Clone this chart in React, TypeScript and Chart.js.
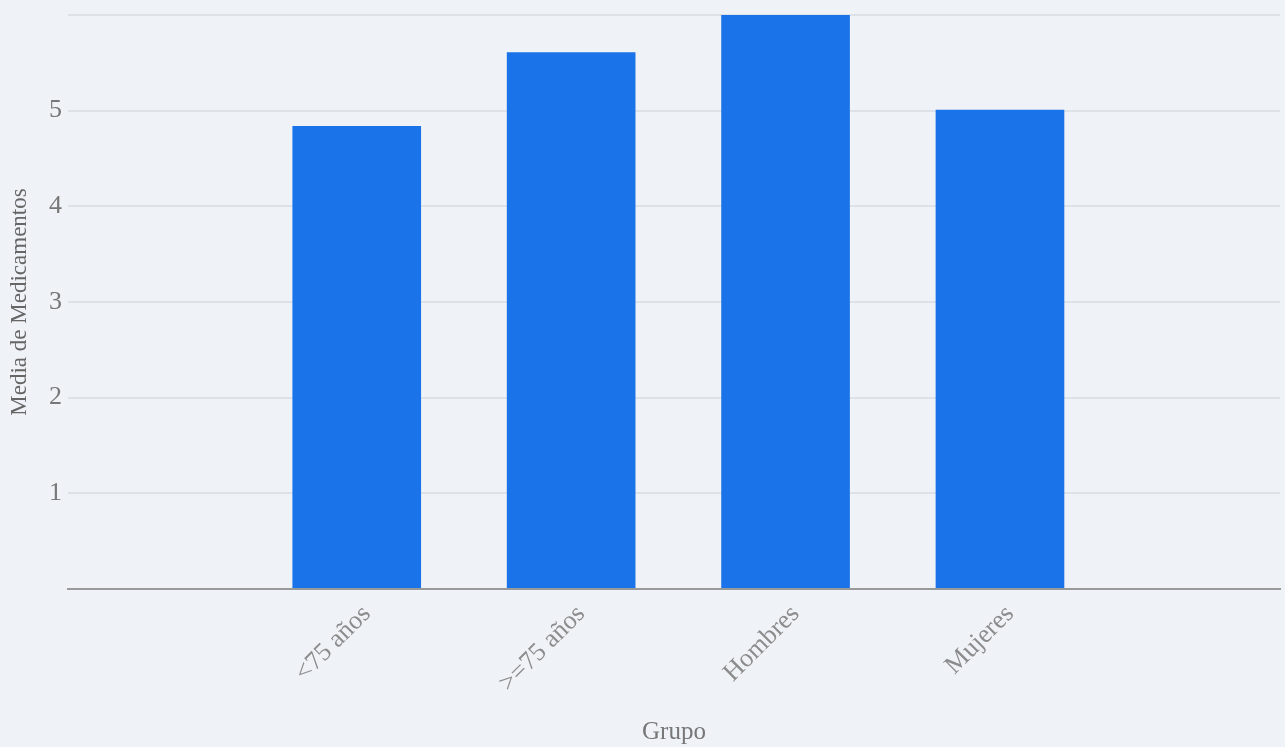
import React, { useEffect, useRef } from "react";
import { Chart, registerables } from "chart.js";

Chart.register(...registerables);

const categories = ["<75 años", ">=75 años", "Hombres", "Mujeres"];
const mediaMedicamentos = [4.84, 5.61, 6.0, 5.01];
const yTickValues = [0, 1, 2, 3, 4, 5, 6];
const yTickLabels = ["", "1", "2", "3", "4", "5", ""];

export default function App() {
  const canvasRef = useRef<HTMLCanvasElement | null>(null);

  useEffect(() => {
    document.body.style.margin = "0";
    document.body.style.background = "#eff2f7";
    const canvas = canvasRef.current;
    if (!canvas) return;
    const serif = "'Liberation Serif', 'Times New Roman', serif";
    const chart = new Chart(canvas, {
      type: "bar",
      data: {
        datasets: [
          {
            label: "Media de Medicamentos",
            data: mediaMedicamentos.map((v, i) => ({ x: i, y: v })),
            backgroundColor: "#1a73e8",
            borderWidth: 0,
            categoryPercentage: 0.6,
            barPercentage: 1,
          },
        ],
      },
      options: {
        animation: false,
        responsive: true,
        maintainAspectRatio: false,
        layout: { padding: { top: 15, right: 5, left: 0, bottom: 0 } },
        plugins: { legend: { display: false }, tooltip: { enabled: false } },
        scales: {
          x: {
            type: "linear",
            offset: false,
            min: -1.3466,
            max: 4.306,
            afterBuildTicks: (scale: any) => {
              scale.ticks = categories.map((_, i) => ({ value: i }));
            },
            afterFit: (scale: any) => {
              scale.height = 158;
              scale.paddingLeft = 0;
              scale.paddingRight = 0;
            },
            grid: { display: false, drawTicks: false },
            border: { display: true, color: "#9a9a9a", width: 2 },
            ticks: {
              autoSkip: false,
              minRotation: 45,
              maxRotation: 45,
              padding: 10,
              labelOffset: 10,
              color: "#8c8c8c",
              font: { family: serif, size: 26 },
              callback: (value: any) => categories[Number(value)] ?? "",
            },
            title: {
              display: true,
              text: "Grupo",
              color: "#777777",
              font: { family: serif, size: 25 },
              padding: { top: 0, bottom: 0 },
            },
          },
          y: {
            type: "linear",
            min: 0,
            max: 6,
            afterBuildTicks: (scale: any) => {
              scale.ticks = yTickValues.map((v) => ({ value: v }));
            },
            afterFit: (scale: any) => {
              scale.width = 68;
              scale.paddingTop = 0;
              scale.paddingBottom = 0;
            },
            grid: { color: "#dde2e8", lineWidth: 2, drawTicks: false },
            border: { display: false },
            ticks: {
              padding: 6,
              color: "#777777",
              font: { family: serif, size: 26 },
              callback: (value: any) => yTickLabels[yTickValues.indexOf(Number(value))] ?? "",
            },
            title: {
              display: true,
              text: "Media de Medicamentos",
              color: "#666666",
              font: { family: serif, size: 23 },
              padding: { top: 6, bottom: 0 },
            },
          },
        },
      },
    });
    return () => chart.destroy();
  }, []);

  return (
    <div style={{ width: 1285, height: 747, background: "#eff2f7" }}>
      <canvas ref={canvasRef} />
    </div>
  );
}
